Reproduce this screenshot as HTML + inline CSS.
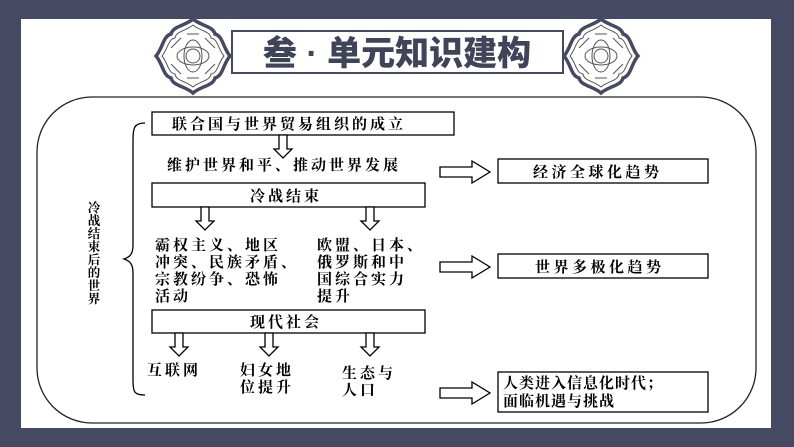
<!DOCTYPE html>
<html><head><meta charset="utf-8"><style>
body{margin:0;width:794px;height:447px;overflow:hidden;background:#454a62}
svg{display:block}
.t{font-family:"Liberation Serif","Noto Serif CJK SC",serif;font-weight:bold;fill:#000}
</style></head><body>
<svg width="794" height="447" viewBox="0 0 794 447" xmlns="http://www.w3.org/2000/svg">
<rect x="21" y="19" width="750" height="409" fill="#fff"/>
<g id="orn" transform="translate(193,56)">
<path d="M0,-37 C8,-30 20,-30 22,-22 C30,-20 30,-8 37,0 C30,8 30,20 22,22 C20,30 8,30 0,37 C-8,30 -20,30 -22,22 C-30,20 -30,8 -37,0 C-30,-8 -30,-20 -22,-22 C-20,-30 -8,-30 0,-37Z" fill="#fff" stroke="#454a62" stroke-width="3.5"/>
<path d="M0,-31 C7,-25 17,-25 18,-18 C25,-17 25,-7 31,0 C25,7 25,17 18,18 C17,25 7,25 0,31 C-7,25 -17,25 -18,18 C-25,17 -25,7 -31,0 C-25,-7 -25,-17 -18,-18 C-17,-25 -7,-25 0,-31Z" fill="none" stroke="#555" stroke-width="1"/>
<circle r="7" fill="none" stroke="#555" stroke-width="1"/>
<ellipse rx="16" ry="9" fill="none" stroke="#555"/><ellipse rx="9" ry="16" fill="none" stroke="#555"/>
<path d="M-22,-8 L-12,-18 M22,-8 L12,-18 M-22,8 L-12,18 M22,8 L12,18 M-6,-22 L6,-22 M-6,22 L6,22" stroke="#555" fill="none"/>
</g>
<use href="#orn" transform="translate(408,0)"/>
<rect x="232" y="31" width="331" height="42" fill="#fff" stroke="#454a62" stroke-width="2"/>
<text x="397" y="65" text-anchor="middle" font-family="Liberation Sans,'Noto Sans CJK SC',sans-serif" font-weight="900" font-size="34" fill="#3f4458">叁 · 单元知识建构</text>
<rect x="37" y="97" width="719" height="326" rx="55" fill="none" stroke="#222" stroke-width="1.3"/>
<path d="M145,123 C134,123 133,128 133,140 L133,245 C133,254 130,257 124,259 C130,261 133,264 133,273 L133,380 C133,392 134,395 145,395" fill="none" stroke="#000" stroke-width="1.3"/>
<g class="t" font-size="12.5" text-anchor="middle">
<text x="94" y="212">冷</text><text x="94" y="225">战</text><text x="94" y="238">结</text><text x="94" y="251">束</text><text x="94" y="264">后</text><text x="94" y="277">的</text><text x="94" y="290">世</text><text x="94" y="303">界</text>
</g>
<g fill="#fff" stroke="#000" stroke-width="1.3">
<rect x="152" y="112" width="302" height="23"/>
<rect x="152" y="183" width="273" height="24"/>
<rect x="152" y="310" width="273" height="23"/>
<rect x="498" y="159" width="210" height="24"/>
<rect x="498" y="254" width="210" height="24"/>
<rect x="498" y="372" width="210" height="40"/>
</g>
<g fill="#fff" stroke="#000" stroke-width="1.3">
<path id="da" d="M-4,0 L4,0 L4,14 L9,14 L0,23 L-9,14 L-4,14Z" transform="translate(283,135)"/>
<use href="#da" transform="translate(-78,72)"/>
<use href="#da" transform="translate(87,72)"/>
<use href="#da" transform="translate(-104,198)"/>
<use href="#da" transform="translate(-14,198)"/>
<use href="#da" transform="translate(87,198)"/>
<path id="ra" d="M0,-5 L32,-5 L32,-11 L50,0 L32,11 L32,5 L0,5Z" transform="translate(440,172)"/>
<use href="#ra" transform="translate(0,95)"/>
<use href="#ra" transform="translate(0,221)"/>
</g>
<g class="t" font-size="15" letter-spacing="3">
<text x="172" y="129">联合国与世界贸易组织的成立</text>
<text x="167" y="170">维护世界和平、推动世界发展</text>
<text x="250" y="201">冷战结束</text>
<text x="250" y="327">现代社会</text>
<text x="155" y="250">霸权主义、地区</text>
<text x="155" y="267">冲突、民族矛盾、</text>
<text x="155" y="284">宗教纷争、恐怖</text>
<text x="155" y="301">活动</text>
<text x="317" y="250">欧盟、日本、</text>
<text x="317" y="267">俄罗斯和中</text>
<text x="317" y="284">国综合实力</text>
<text x="317" y="301">提升</text>
<text x="147" y="375">互联网</text>
<text x="240" y="375">妇女地</text>
<text x="240" y="392">位提升</text>
<text x="342" y="378">生态与</text>
<text x="342" y="395">人口</text>
<text x="533" y="177" letter-spacing="3.5">经济全球化趋势</text>
<text x="535" y="272" letter-spacing="3.5">世界多极化趋势</text>
</g>
<g class="t" font-size="15" letter-spacing="1">
<text x="503" y="388">人类进入信息化时代；</text>
<text x="503" y="406">面临机遇与挑战</text>
</g>
</svg>
</body></html>
